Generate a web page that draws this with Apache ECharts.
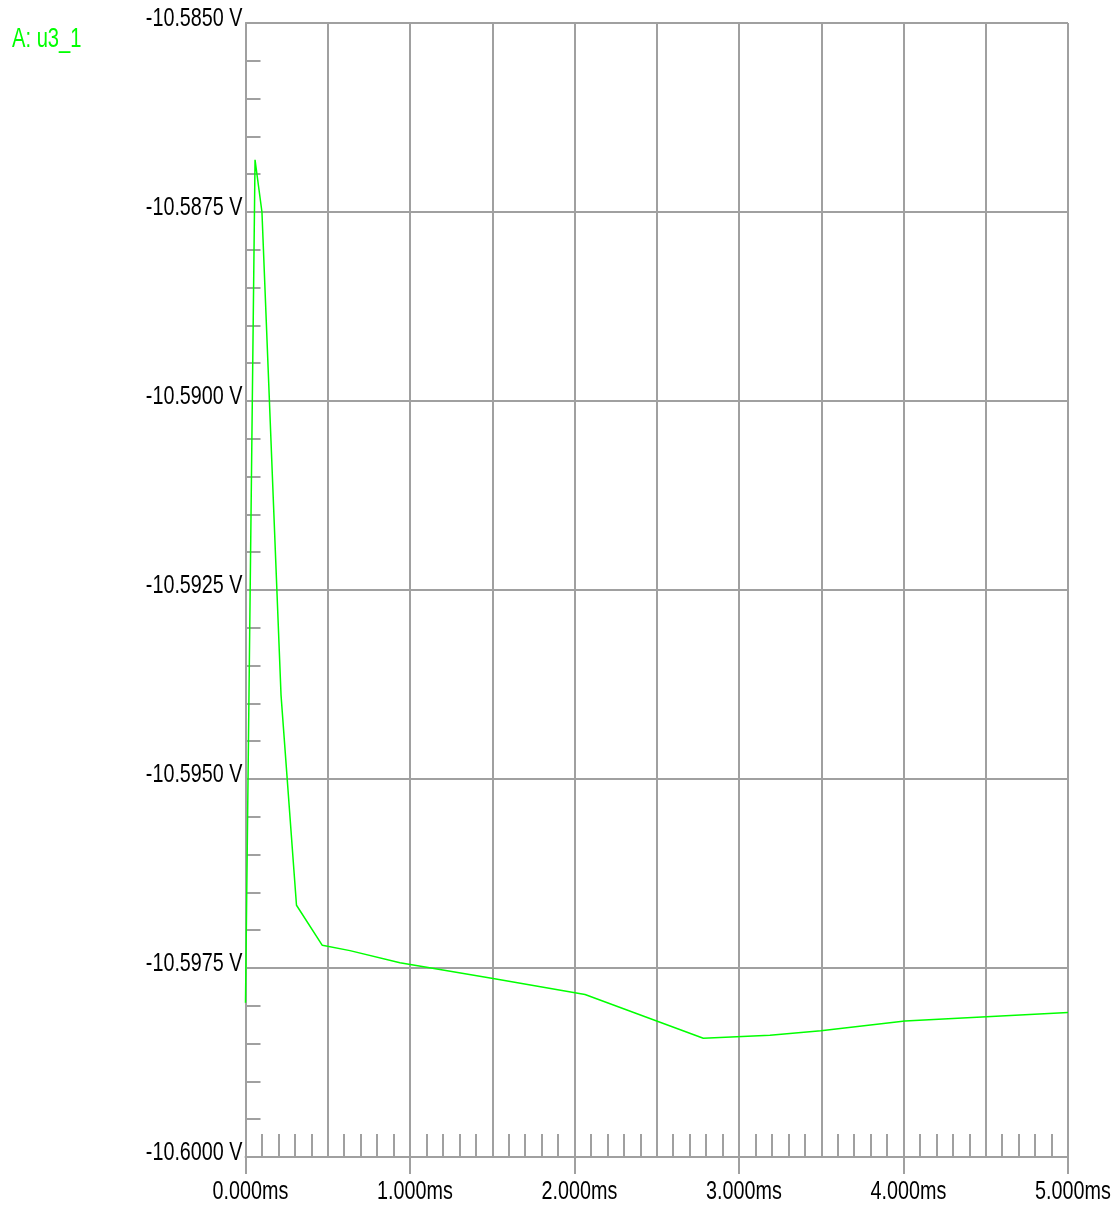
<!DOCTYPE html>
<html>
<head>
<meta charset="utf-8">
<script src="https://cdn.jsdelivr.net/npm/echarts@6/dist/echarts.min.js"></script>
<style>
html,body{margin:0;padding:0;background:#fff;}
#chart{width:1120px;height:1211px;}
</style>
</head>
<body>
<div id="chart"></div>
<script>
// Time in ms, voltage in V
const seriesName = 'A: u3_1';
const timeMs = [0, 0.058, 0.100, 0.216, 0.310, 0.467, 0.635, 0.939, 1.505, 2.064, 2.783, 3.188, 3.498, 4.009, 5.000];
const voltage = [-10.59796, -10.58681, -10.58750, -10.59389, -10.59667, -10.59720, -10.59727, -10.59743, -10.59764, -10.59785, -10.59843, -10.59839, -10.59833, -10.59820, -10.59809];
const xLabelTicks = [0, 1, 2, 3, 4, 5];
const yTicks = [-10.6000, -10.5975, -10.5950, -10.5925, -10.5900, -10.5875, -10.5850];

const data = timeMs.map((t, i) => [t, voltage[i]]);
const gridColor = '#a0a0a0';
const font = 'Liberation Sans, Arial, sans-serif';
const labelFont = '26px ' + font;
const squeeze = 0.76;

const chart = echarts.init(document.getElementById('chart'), null, {renderer: 'canvas'});
chart.setOption({
  animation: false,
  backgroundColor: '#ffffff',
  grid: {left: 245.5, right: 52, top: 23, bottom: 54, containLabel: false},
  xAxis: [{
    type: 'value', min: xLabelTicks[0], max: xLabelTicks[xLabelTicks.length - 1], interval: 1,
    position: 'bottom',
    axisLine: {show: true, lineStyle: {color: gridColor, width: 2}},
    axisTick: {show: true, inside: false, length: 17, lineStyle: {color: gridColor, width: 2}},
    axisLabel: {show: false},
    splitLine: {show: false}
  }, {
    type: 'value', min: 0, max: 5, interval: 0.5,
    position: 'bottom',
    axisLine: {show: false},
    axisTick: {show: true, inside: true, length: 23, lineStyle: {color: gridColor, width: 2}},
    minorTick: {show: true, splitNumber: 5, length: 23, lineStyle: {color: gridColor, width: 2}},
    axisLabel: {show: false},
    splitLine: {show: true, lineStyle: {color: gridColor, width: 2}}
  }],
  yAxis: {
    type: 'value', min: yTicks[0], max: yTicks[yTicks.length - 1], interval: 0.0025,
    axisLine: {show: true, lineStyle: {color: gridColor, width: 2}},
    axisTick: {show: true, inside: true, length: 15, lineStyle: {color: gridColor, width: 2}},
    minorTick: {show: true, splitNumber: 5, length: 15, lineStyle: {color: gridColor, width: 2}},
    axisLabel: {show: false},
    splitLine: {show: true, lineStyle: {color: gridColor, width: 2}}
  },
  series: [{
    name: seriesName,
    type: 'line',
    xAxisIndex: 0,
    data: data,
    showSymbol: false,
    symbol: 'none',
    lineStyle: {color: '#00ff00', width: 1.5},
    z: 10
  }]
});

// Tick labels placed through the axes' own scales (condensed text like the original)
const graphics = [];
yTicks.forEach(v => {
  const p = chart.convertToPixel({xAxisIndex: 0, yAxisIndex: 0}, [0, v]);
  graphics.push({
    type: 'text', x: p[0] - 3, y: p[1] - 4, scaleX: squeeze, silent: true,
    style: {text: v.toFixed(4) + ' V', font: labelFont, fill: '#000',
      align: 'right', verticalAlign: 'middle', textAlign: 'right', textVerticalAlign: 'middle'}
  });
});
xLabelTicks.forEach(v => {
  const p = chart.convertToPixel({xAxisIndex: 0, yAxisIndex: 0}, [v, yTicks[0]]);
  graphics.push({
    type: 'text', x: p[0] + 5, y: p[1] + 35, scaleX: squeeze, silent: true,
    style: {text: v.toFixed(3) + 'ms', font: labelFont, fill: '#000',
      align: 'center', verticalAlign: 'middle', textAlign: 'center', textVerticalAlign: 'middle'}
  });
});
graphics.push({
  type: 'text', x: 12, y: 39, scaleX: 0.72, silent: true,
  style: {text: seriesName, font: '28px ' + font, fill: '#00ff00',
    align: 'left', verticalAlign: 'middle', textAlign: 'left', textVerticalAlign: 'middle'}
});
chart.setOption({graphic: graphics});
</script>
</body>
</html>
